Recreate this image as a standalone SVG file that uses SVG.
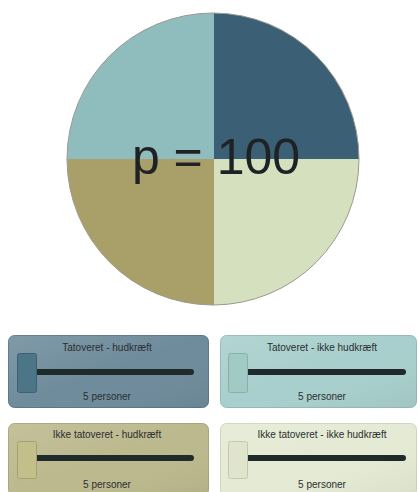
<svg xmlns="http://www.w3.org/2000/svg" width="418" height="492" viewBox="0 0 418 492">
<defs>
<style>
.lbl{font-family:"Liberation Sans",Arial,sans-serif;font-size:10px;fill:#2a2e30;text-anchor:middle}
.big{font-family:"Liberation Sans",Arial,sans-serif;font-size:50px;fill:#1e2224;text-anchor:middle}
.track{stroke:#1f2a2a;stroke-width:6;stroke-linecap:round}
.panel{stroke-width:1}
.thumb{stroke-width:1}
</style>
<linearGradient id="gloss" x1="0" y1="0" x2="1" y2="1">
<stop offset="0" stop-color="#fff" stop-opacity="0.12"/>
<stop offset="0.5" stop-color="#fff" stop-opacity="0"/>
<stop offset="1" stop-color="#000" stop-opacity="0.05"/>
</linearGradient>
<clipPath id="circ"><circle cx="213" cy="159" r="146"/></clipPath>
</defs>
<rect width="418" height="492" fill="#ffffff"/>
<g id="pie">
<g clip-path="url(#circ)">
<rect x="67" y="13" width="147" height="146" fill="#8fbcbd"/>
<rect x="214" y="13" width="146" height="146" fill="#3b5f75"/>
<rect x="67" y="159" width="147" height="146" fill="#a8a068"/>
<rect x="214" y="159" width="146" height="146" fill="#d5e0bf"/>
</g>
<circle cx="213" cy="159" r="146" fill="none" stroke="#9a9a90" stroke-width="1"/>
<text class="big" x="216" y="174">p = 100</text>
</g>
<g id="panel1">
<rect class="panel" x="8.5" y="335.5" width="200" height="72" rx="6" fill="#6f8c9c" stroke="#5d7786"/>
<rect x="8.5" y="335.5" width="200" height="72" rx="6" fill="url(#gloss)"/>
<text class="lbl" x="107" y="351">Tatoveret - hudkræft</text>
<line class="track" x1="34" y1="372" x2="191" y2="372"/>
<rect class="thumb" x="17.5" y="353.5" width="19" height="39" rx="2" fill="#4c7588" stroke="#3e6070"/>
<text class="lbl" x="107" y="400">5 personer</text>
</g>
<g id="panel2">
<rect class="panel" x="220.5" y="335.5" width="196" height="72" rx="6" fill="#a8cfcd" stroke="#94bab8"/>
<rect x="220.5" y="335.5" width="196" height="72" rx="6" fill="url(#gloss)"/>
<text class="lbl" x="322" y="351">Tatoveret - ikke hudkræft</text>
<line class="track" x1="247" y1="372" x2="403" y2="372"/>
<rect class="thumb" x="228.5" y="353.5" width="19" height="39" rx="2" fill="#a2cac4" stroke="#88b0aa"/>
<text class="lbl" x="322" y="400">5 personer</text>
</g>
<g id="panel3">
<rect class="panel" x="8.5" y="423.5" width="200" height="72" rx="6" fill="#bcb98e" stroke="#a8a57a"/>
<rect x="8.5" y="423.5" width="200" height="72" rx="6" fill="url(#gloss)"/>
<text class="lbl" x="107" y="438">Ikke tatoveret - hudkræft</text>
<line class="track" x1="34" y1="458" x2="191" y2="458"/>
<rect class="thumb" x="17.5" y="441.5" width="19" height="37" rx="2" fill="#c3bf8a" stroke="#a5a272"/>
<text class="lbl" x="107" y="488">5 personer</text>
</g>
<g id="panel4">
<rect class="panel" x="220.5" y="423.5" width="196" height="72" rx="6" fill="#e4ead3" stroke="#cdd5bb"/>
<rect x="220.5" y="423.5" width="196" height="72" rx="6" fill="url(#gloss)"/>
<text class="lbl" x="322" y="438">Ikke tatoveret - ikke hudkræft</text>
<line class="track" x1="247" y1="458" x2="403" y2="458"/>
<rect class="thumb" x="228.5" y="441.5" width="19" height="37" rx="2" fill="#e0e4cc" stroke="#c3c9ad"/>
<text class="lbl" x="322" y="488">5 personer</text>
</g>
<g id="connectors"/>
</svg>
